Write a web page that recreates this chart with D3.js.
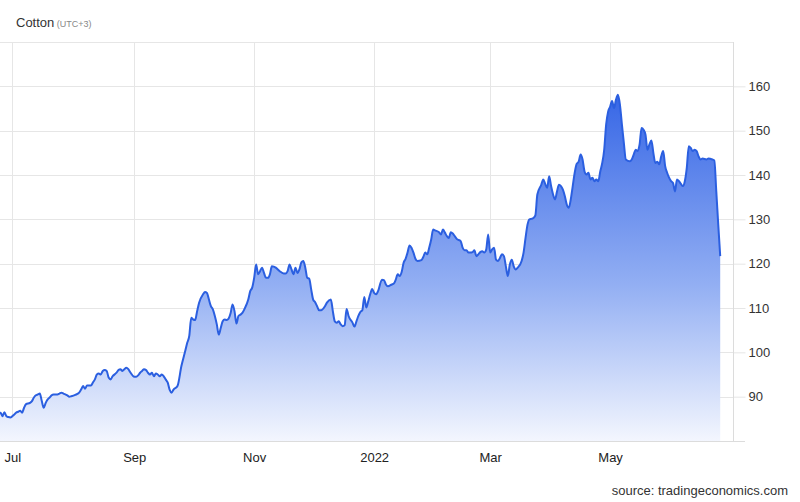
<!DOCTYPE html>
<html><head><meta charset="utf-8">
<script src="https://cdn.jsdelivr.net/npm/d3@7"></script>
<style>
html,body{margin:0;padding:0;background:#fff;}
svg{display:block;font-family:"Liberation Sans",Arial,sans-serif;}
</style></head>
<body><svg id="c" width="800" height="502"></svg>
<script>
const dates = ["2021-06-24","2021-06-25","2021-06-26","2021-06-27","2021-06-28","2021-06-29","2021-06-30","2021-07-02","2021-07-03","2021-07-04","2021-07-05","2021-07-06","2021-07-07","2021-07-08","2021-07-10","2021-07-11","2021-07-12","2021-07-13","2021-07-14","2021-07-15","2021-07-16","2021-07-17","2021-07-18","2021-07-19","2021-07-20","2021-07-21","2021-07-22","2021-07-24","2021-07-25","2021-07-26","2021-07-27","2021-07-29","2021-07-30","2021-07-31","2021-08-02","2021-08-04","2021-08-05","2021-08-06","2021-08-07","2021-08-08","2021-08-10","2021-08-11","2021-08-12","2021-08-13","2021-08-14","2021-08-15","2021-08-16","2021-08-17","2021-08-18","2021-08-19","2021-08-20","2021-08-21","2021-08-23","2021-08-24","2021-08-25","2021-08-26","2021-08-27","2021-08-28","2021-08-29","2021-08-30","2021-09-01","2021-09-02","2021-09-03","2021-09-04","2021-09-05","2021-09-06","2021-09-07","2021-09-08","2021-09-09","2021-09-10","2021-09-11","2021-09-12","2021-09-13","2021-09-14","2021-09-15","2021-09-16","2021-09-17","2021-09-18","2021-09-19","2021-09-20","2021-09-21","2021-09-23","2021-09-25","2021-09-27","2021-09-28","2021-09-29","2021-09-30","2021-10-01","2021-10-02","2021-10-03","2021-10-04","2021-10-06","2021-10-07","2021-10-08","2021-10-09","2021-10-10","2021-10-11","2021-10-12","2021-10-13","2021-10-14","2021-10-15","2021-10-16","2021-10-17","2021-10-18","2021-10-19","2021-10-20","2021-10-21","2021-10-22","2021-10-23","2021-10-24","2021-10-25","2021-10-26","2021-10-27","2021-10-29","2021-10-30","2021-10-31","2021-11-01","2021-11-02","2021-11-03","2021-11-04","2021-11-05","2021-11-06","2021-11-07","2021-11-08","2021-11-09","2021-11-10","2021-11-12","2021-11-13","2021-11-14","2021-11-16","2021-11-17","2021-11-18","2021-11-19","2021-11-20","2021-11-21","2021-11-22","2021-11-23","2021-11-24","2021-11-25","2021-11-26","2021-11-27","2021-11-28","2021-11-29","2021-11-30","2021-12-01","2021-12-02","2021-12-03","2021-12-04","2021-12-05","2021-12-07","2021-12-08","2021-12-10","2021-12-11","2021-12-12","2021-12-13","2021-12-14","2021-12-15","2021-12-16","2021-12-17","2021-12-18","2021-12-19","2021-12-21","2021-12-22","2021-12-23","2021-12-24","2021-12-25","2021-12-26","2021-12-27","2021-12-28","2021-12-29","2021-12-30","2021-12-31","2022-01-01","2022-01-02","2022-01-03","2022-01-05","2022-01-06","2022-01-07","2022-01-08","2022-01-10","2022-01-11","2022-01-12","2022-01-13","2022-01-14","2022-01-15","2022-01-16","2022-01-17","2022-01-18","2022-01-19","2022-01-20","2022-01-21","2022-01-22","2022-01-23","2022-01-25","2022-01-26","2022-01-27","2022-01-28","2022-01-29","2022-01-30","2022-01-31","2022-02-01","2022-02-03","2022-02-04","2022-02-05","2022-02-06","2022-02-07","2022-02-08","2022-02-09","2022-02-10","2022-02-11","2022-02-12","2022-02-14","2022-02-15","2022-02-16","2022-02-17","2022-02-18","2022-02-19","2022-02-20","2022-02-21","2022-02-22","2022-02-23","2022-02-24","2022-02-25","2022-02-26","2022-02-27","2022-02-28","2022-03-01","2022-03-02","2022-03-03","2022-03-04","2022-03-05","2022-03-06","2022-03-07","2022-03-08","2022-03-09","2022-03-10","2022-03-11","2022-03-12","2022-03-13","2022-03-14","2022-03-15","2022-03-17","2022-03-18","2022-03-19","2022-03-20","2022-03-21","2022-03-22","2022-03-23","2022-03-24","2022-03-25","2022-03-27","2022-03-28","2022-03-29","2022-03-30","2022-03-31","2022-04-01","2022-04-02","2022-04-03","2022-04-04","2022-04-05","2022-04-06","2022-04-07","2022-04-08","2022-04-09","2022-04-10","2022-04-11","2022-04-12","2022-04-13","2022-04-14","2022-04-15","2022-04-16","2022-04-17","2022-04-18","2022-04-19","2022-04-20","2022-04-21","2022-04-22","2022-04-23","2022-04-24","2022-04-25","2022-04-26","2022-04-27","2022-04-28","2022-04-29","2022-04-30","2022-05-01","2022-05-02","2022-05-03","2022-05-04","2022-05-05","2022-05-06","2022-05-07","2022-05-08","2022-05-09","2022-05-11","2022-05-12","2022-05-13","2022-05-14","2022-05-15","2022-05-16","2022-05-17","2022-05-18","2022-05-19","2022-05-20","2022-05-21","2022-05-22","2022-05-23","2022-05-24","2022-05-25","2022-05-26","2022-05-27","2022-05-28","2022-05-29","2022-05-30","2022-05-31","2022-06-01","2022-06-02","2022-06-03","2022-06-04","2022-06-05","2022-06-06","2022-06-07","2022-06-08","2022-06-09","2022-06-10","2022-06-11","2022-06-12","2022-06-13","2022-06-14","2022-06-15","2022-06-16","2022-06-17","2022-06-19","2022-06-20","2022-06-22","2022-06-23","2022-06-24","2022-06-25","2022-06-26"];
const prices = [86.0,86.4,85.6,86.5,85.6,85.4,85.3,86.0,86.4,86.6,86.8,86.4,87.5,88.3,88.6,89.0,89.8,90.3,90.5,90.7,89.0,87.5,88.6,89.4,89.8,90.3,90.5,90.5,90.7,90.9,90.7,90.3,90.0,90.1,90.4,90.9,91.6,92.4,91.8,92.5,92.5,93.2,93.9,95.0,95.2,95.0,95.8,96.0,95.8,94.3,93.9,94.6,95.4,96.0,96.2,95.8,96.2,96.5,96.2,95.5,94.5,94.5,94.8,95.4,95.8,96.2,96.0,95.4,95.0,95.4,94.6,95.2,95.0,94.6,95.0,94.6,93.9,93.2,91.6,90.9,91.6,92.4,96.9,100.4,102.2,103.7,107.8,107.4,107.3,109.3,111.2,113.1,113.6,113.4,111.9,110.4,109.7,108.2,106.3,104.0,105.5,107.0,107.4,107.3,107.6,108.8,110.8,109.3,106.5,108.2,108.5,108.9,109.7,111.9,113.8,114.6,116.8,119.8,117.6,118.3,119.1,117.9,116.8,116.8,117.6,119.4,119.1,118.7,118.3,117.8,117.8,118.3,119.8,118.7,117.6,119.1,117.9,118.7,120.3,120.6,119.1,116.8,116.6,114.2,111.9,111.3,110.4,109.5,109.5,110.4,111.2,111.9,109.3,107.0,106.7,107.0,106.3,105.9,106.1,109.8,108.2,106.7,105.8,107.0,108.2,109.1,109.5,112.5,110.1,111.5,113.1,114.3,113.4,113.1,113.8,116.4,116.3,115.3,114.9,115.3,115.5,116.4,117.6,117.2,118.1,120.2,121.1,122.5,124.1,123.6,122.5,121.1,120.6,120.8,121.5,122.5,122.1,123.6,125.4,127.7,127.5,127.1,126.6,127.7,127.0,126.2,125.8,127.1,126.8,126.2,125.6,125.1,123.6,123.0,123.0,122.5,122.5,122.6,123.0,121.7,122.1,122.6,122.8,122.5,123.2,126.6,122.5,123.2,123.6,120.9,120.6,121.3,122.1,121.7,119.4,117.2,119.8,120.9,119.4,118.7,119.1,120.6,122.5,125.8,128.8,130.0,130.1,130.3,130.9,135.6,137.8,139.0,138.0,137.1,139.7,137.5,135.6,134.5,136.3,137.8,137.5,136.7,135.2,133.3,132.6,134.5,137.5,140.5,142.5,143.0,144.6,143.5,140.8,140.1,140.5,139.0,139.4,138.6,139.0,138.6,140.8,142.7,145.7,151.4,154.3,155.4,156.7,155.1,157.0,158.1,155.9,151.4,147.2,143.5,143.1,143.5,144.6,145.7,145.4,146.9,150.6,150.2,149.1,145.7,146.9,147.8,145.0,142.7,143.0,142.4,144.2,145.4,142.0,140.5,139.4,138.6,138.2,136.3,139.0,138.6,138.0,137.5,138.6,141.6,146.5,146.1,145.4,145.7,145.4,144.2,143.5,143.7,143.5,143.7,143.5,143.3,136.3,128.8,121.7];
const yTicks = [90,100,110,120,130,140,150,160];
const xTickDates = ["2021-07-01","2021-09-01","2021-11-01","2022-01-01","2022-03-01","2022-05-01"];
const xTickLabels = ["Jul","Sep","Nov","2022","Mar","May"];
const title = "Cotton";
const subtitle = "(UTC+3)";
const source = "source: tradingeconomics.com";

const parse = d3.timeParse("%Y-%m-%d");
const data = dates.map((d,i)=>({date:parse(d), value:prices[i]}));

const svg = d3.select("#c");
const L = 0, R = 733, T = 42, B = 441, tickEnd = 745;
const x = d3.scaleTime().domain([new Date(2021,5,24,18), new Date(2022,6,2,12)]).range([L,R]);
const y = d3.scaleLinear().domain([80,170]).range([B,T]);

const grid = "#e6e6e6";
// horizontal gridlines
svg.append("g").selectAll("line").data(yTicks.concat([170])).join("line")
  .attr("x1",L).attr("x2",R).attr("y1",d=>Math.round(y(d))+0.5).attr("y2",d=>Math.round(y(d))+0.5)
  .attr("stroke",grid).attr("stroke-width",1);
// vertical gridlines
svg.append("g").selectAll("line").data(xTickDates.map(parse)).join("line")
  .attr("x1",d=>Math.round(x(d))+0.5).attr("x2",d=>Math.round(x(d))+0.5).attr("y1",T).attr("y2",B)
  .attr("stroke",grid).attr("stroke-width",1);

// area + line
const defs = svg.append("defs");
defs.append("clipPath").attr("id","clip").append("rect").attr("x",L).attr("y",T).attr("width",R-L).attr("height",B-T);
const grad = defs.append("linearGradient").attr("id","g").attr("gradientUnits","userSpaceOnUse")
  .attr("x1",0).attr("x2",0).attr("y1",y(158)).attr("y2",B);
grad.append("stop").attr("offset","0").attr("stop-color","#3767e6");
grad.append("stop").attr("offset","0.55").attr("stop-color","#93aff3");
grad.append("stop").attr("offset","1").attr("stop-color","#f3f6fe");

const gp = svg.append("g").attr("clip-path","url(#clip)");
gp.append("path").datum(data)
  .attr("d", d3.area().x(d=>x(d.date)).y0(B).y1(d=>y(d.value)).curve(d3.curveMonotoneX))
  .attr("fill","url(#g)");
gp.append("path").datum(data)
  .attr("d", d3.line().x(d=>x(d.date)).y(d=>y(d.value)).curve(d3.curveMonotoneX))
  .attr("fill","none").attr("stroke","#2b5fe0").attr("stroke-width",2).attr("stroke-linejoin","round");

// right axis
const ya = svg.append("g").attr("transform",`translate(${R+0.5},0)`)
  .call(d3.axisRight(y).tickValues(yTicks).tickSize(tickEnd-R).tickPadding(3).tickFormat(d3.format("d")));
ya.select(".domain").remove();
ya.selectAll(".tick line").attr("stroke",grid);
ya.selectAll("text").attr("fill","#333").style("font-size","13px").style("font-family","'Liberation Sans',Arial,sans-serif");
svg.append("line").attr("x1",R+0.5).attr("x2",R+0.5).attr("y1",T).attr("y2",B).attr("stroke","#dcdcdc");

// bottom axis
const xa = svg.append("g").attr("transform",`translate(0,${B})`)
  .call(d3.axisBottom(x).tickValues(xTickDates.map(parse)).tickSize(0).tickPadding(12).tickFormat((d,i)=>xTickLabels[i]));
xa.select(".domain").remove();
xa.selectAll("text").attr("fill","#222").style("font-size","13px").style("font-family","'Liberation Sans',Arial,sans-serif");
svg.append("line").attr("x1",L).attr("x2",tickEnd).attr("y1",B+0.5).attr("y2",B+0.5).attr("stroke","#dcdcdc");

// title
const t = svg.append("text").attr("x",16).attr("y",27).attr("fill","#333");
t.append("tspan").text(title).style("font-size","13px");
t.append("tspan").text(" "+subtitle).style("font-size","9px").attr("fill","#888");

svg.append("text").attr("x",788).attr("y",495).attr("text-anchor","end")
  .attr("fill","#333").style("font-size","13px").text(source);
</script></body></html>
